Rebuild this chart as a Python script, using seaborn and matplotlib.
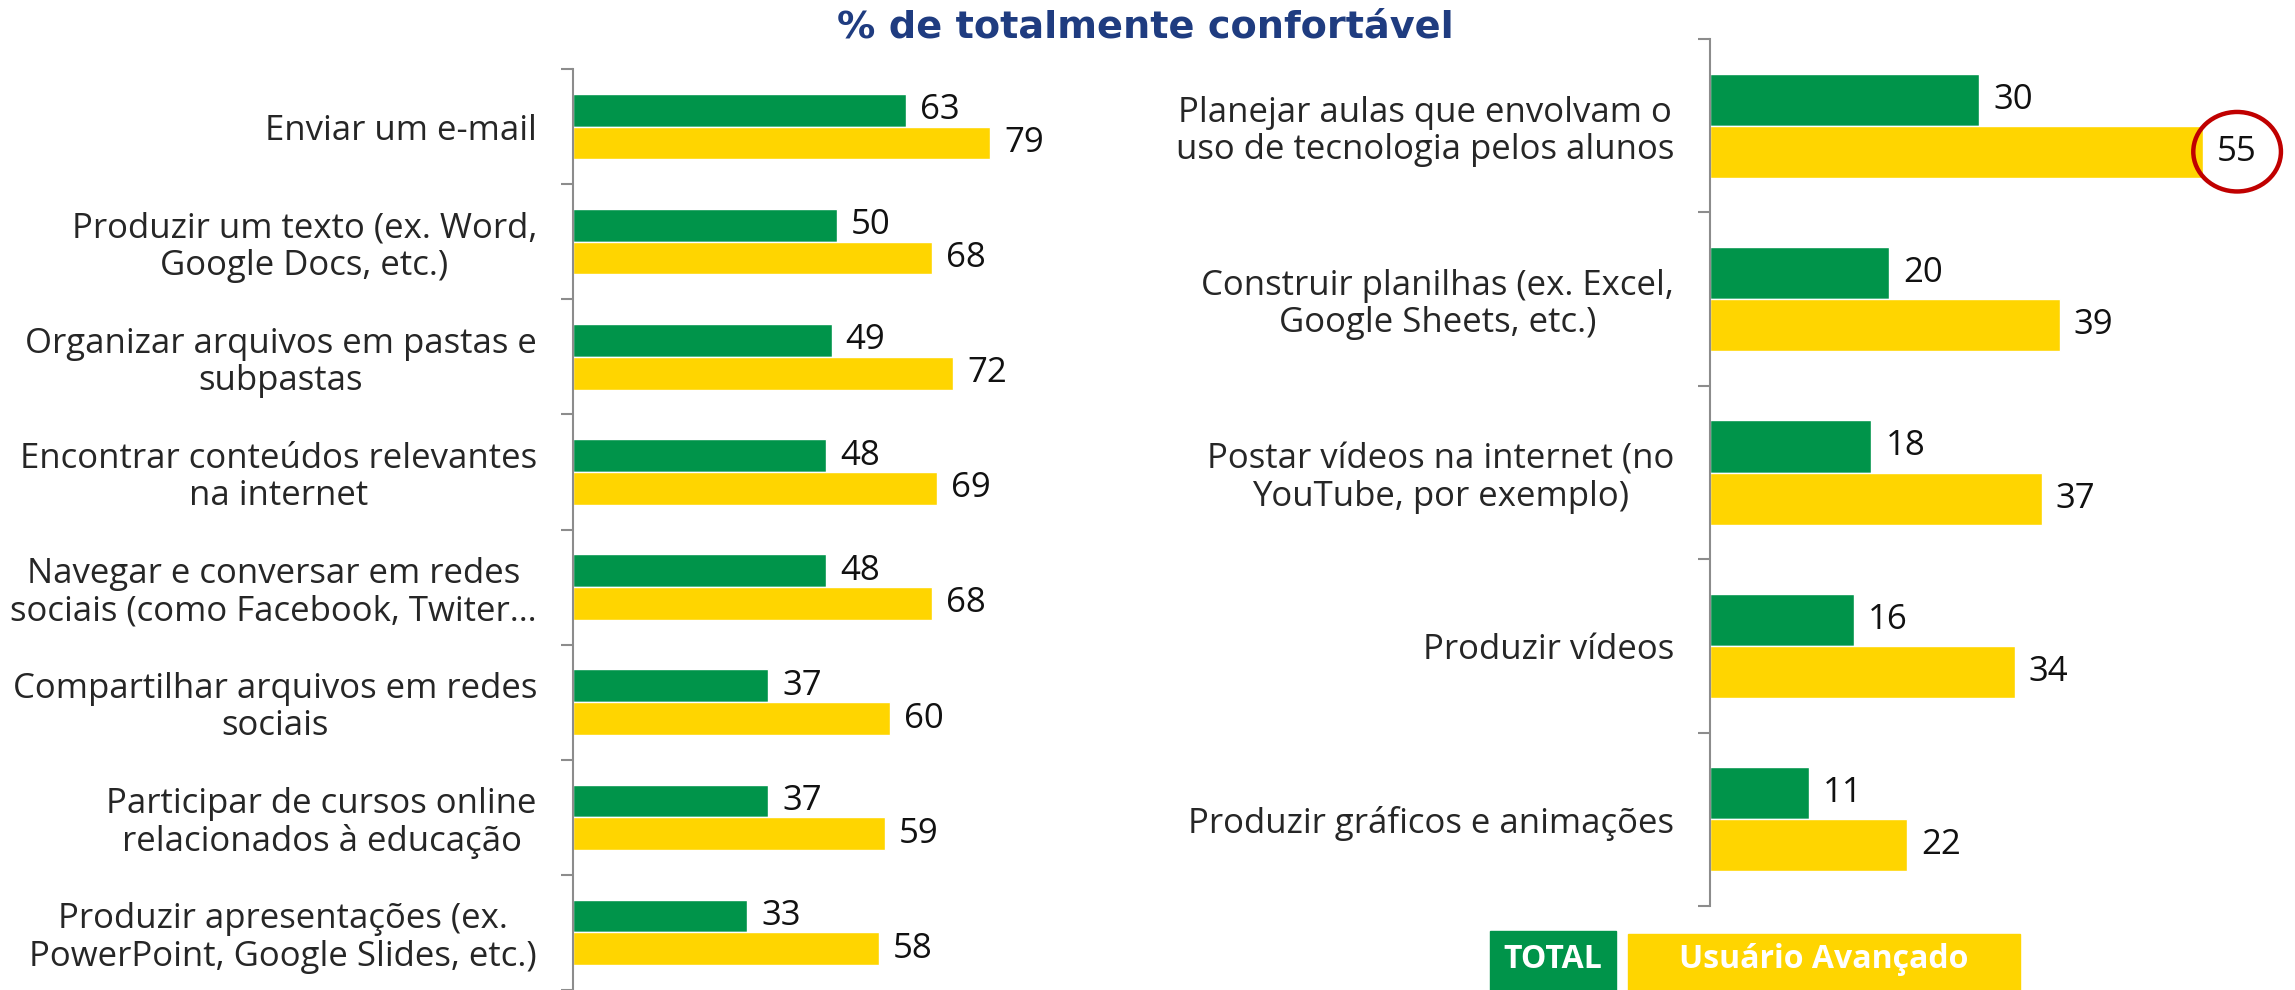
import pandas as pd
import matplotlib.pyplot as plt
import seaborn as sns
from matplotlib.patches import Rectangle

# Data
left_cats = [
    "Enviar um e-mail",
    "Produzir um texto (ex. Word,\nGoogle Docs, etc.)",
    "Organizar arquivos em pastas e\nsubpastas",
    "Encontrar conteúdos relevantes\nna internet",
    "Navegar e conversar em redes\nsociais (como Facebook, Twiter…",
    "Compartilhar arquivos em redes\nsociais",
    "Participar de cursos online\nrelacionados à educação",
    "Produzir apresentações (ex.\nPowerPoint, Google Slides, etc.)",
]
left_total = [63, 50, 49, 48, 48, 37, 37, 33]
left_avancado = [79, 68, 72, 69, 68, 60, 59, 58]

right_cats = [
    "Planejar aulas que envolvam o\nuso de tecnologia pelos alunos",
    "Construir planilhas (ex. Excel,\nGoogle Sheets, etc.)",
    "Postar vídeos na internet (no\nYouTube, por exemplo)",
    "Produzir vídeos",
    "Produzir gráficos e animações",
]
right_total = [30, 20, 18, 16, 11]
right_avancado = [55, 39, 37, 34, 22]

series = ["TOTAL", "Usuário Avançado"]
GREEN = "#00944A"
YELLOW = "#FFD500"

sns.set_style("white")
plt.rcParams["font.family"] = ["Open Sans", "DejaVu Sans"]

W, H = 2295, 990
fig = plt.figure(figsize=(W / 100, H / 100), dpi=100)


def make_df(cats, tot, adv):
    return pd.DataFrame({
        "cat": cats * 2,
        "valor": tot + adv,
        "grupo": [series[0]] * len(cats) + [series[1]] * len(cats),
    })


def draw(ax, cats, tot, adv, width, xmax, ybottom):
    df = make_df(cats, tot, adv)
    sns.barplot(data=df, y="cat", x="valor", hue="grupo", order=cats,
                hue_order=series, palette=[GREEN, YELLOW], width=width,
                orient="h", legend=False, ax=ax, saturation=1)
    n = len(cats)
    ax.set_xlim(0, xmax)
    ax.set_ylim(ybottom, -0.5)
    ax.set_xlabel("")
    ax.set_ylabel("")
    ax.set_xticks([])
    ax.set_yticks(range(n))
    ax.set_yticklabels(cats, fontsize=25, multialignment="center", linespacing=1.12)
    ax.tick_params(axis="y", which="major", left=False, length=0, pad=26)
    ax.set_yticks([i - 0.5 for i in range(n + 1)], minor=True)
    ax.tick_params(axis="y", which="minor", left=True, length=9, width=1.5,
                   color="#8c8c8c")
    for s in ["top", "right", "bottom"]:
        ax.spines[s].set_visible(False)
    ax.spines["left"].set_color("#8c8c8c")
    ax.spines["left"].set_linewidth(1.5)
    labels = []
    for c in ax.containers:
        labels.append(ax.bar_label(c, fontsize=25, padding=10, color="#111111"))
    return labels


# left panel (cut at the bottom like the original slide)
ax1 = fig.add_axes([573 / W, 0, 577 / W, (H - 69) / H])
draw(ax1, left_cats, left_total, left_avancado, 0.57, 577 / 5.28, 7.5 - 15 / 117)

# right panel
ax2 = fig.add_axes([1710 / W, (H - 906) / H, 585 / W, (906 - 39) / H])
lab = draw(ax2, right_cats, right_total, right_avancado, 0.6, 585 / 8.97, 4.5)
lab[1][0].set_bbox(dict(boxstyle="ellipse,pad=0.32", fc="none", ec="#C00000", lw=3.2))

# title
fig.text(1145 / W, 1 - 27 / H, "% de totalmente confortável", ha="center", va="center",
         fontsize=27.5, fontweight="bold", color="#1F3C80", family="DejaVu Sans")

# legend boxes
fig.patches.append(Rectangle((1490 / W, 0), 126 / W, 59 / H,
                             transform=fig.transFigure, color=GREEN))
fig.patches.append(Rectangle((1628 / W, 0), 392 / W, 56 / H,
                             transform=fig.transFigure, color=YELLOW))
fig.text(1553 / W, 1 - 959 / H, "TOTAL", ha="center", va="center",
         fontsize=23, fontweight="bold", color="white")
fig.text(1824 / W, 1 - 960 / H, "Usuário Avançado", ha="center", va="center",
         fontsize=23, fontweight="bold", color="white")

fig.savefig("out.png", dpi=100)
